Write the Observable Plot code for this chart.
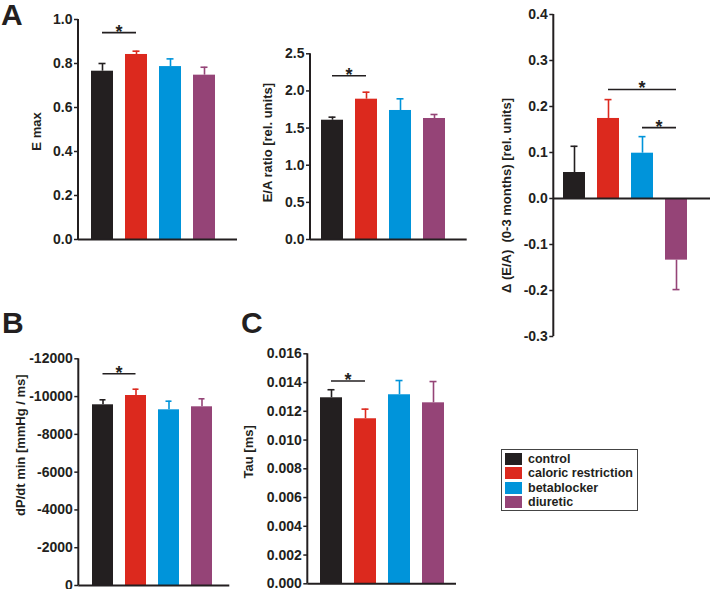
<!DOCTYPE html>
<html><head><meta charset="utf-8">
<script src="https://cdn.jsdelivr.net/npm/d3@7"></script>
<script src="https://cdn.jsdelivr.net/npm/@observablehq/plot@0.6"></script>
<style>
body{margin:0;background:#fff;}
#wrap{position:relative;width:710px;height:589px;overflow:hidden;font-family:"Liberation Sans",Arial,sans-serif;color:#231f20;}
</style></head><body><div id="wrap"></div>
<script>
// ---- data ----
const groups = ["control", "caloric restriction", "betablocker", "diuretic"];
const colors = ["#231f20", "#dc291e", "#0094da", "#954477"];

const emaxMean = [0.765, 0.841, 0.786, 0.747];
const emaxSem  = [0.035, 0.015, 0.035, 0.036];
const emaxTicks = [0, 0.2, 0.4, 0.6, 0.8, 1.0];
const emaxSig = [{from: "control", to: "caloric restriction", y: 0.938}];

const eaMean = [1.606, 1.889, 1.737, 1.629];
const eaSem  = [0.041, 0.094, 0.157, 0.054];
const eaTicks = [0, 0.5, 1.0, 1.5, 2.0, 2.5];
const eaSig = [{from: "control", to: "caloric restriction", y: 2.198}];

const dEaMean = [0.0565, 0.174, 0.0985, -0.134];
const dEaSem  = [0.057, 0.041, 0.036, 0.064];
const dEaTicks = [-0.3, -0.2, -0.1, 0, 0.1, 0.2, 0.3, 0.4];
const dEaSig = [
  {from: "caloric restriction", to: "diuretic", y: 0.236},
  {from: "betablocker", to: "diuretic", y: 0.153}
];

const dpMean = [-9565, -10057, -9300, -9459];
const dpSem  = [265, 333, 456, 424];
const dpTicks = [0, -2000, -4000, -6000, -8000, -10000, -12000];
const dpSig = [{from: "control", to: "caloric restriction", y: -11185}];

const tauMean = [0.01294, 0.01148, 0.01315, 0.01259];
const tauSem  = [0.00056, 0.00067, 0.00099, 0.00148];
const tauTicks = [0, 0.002, 0.004, 0.006, 0.008, 0.010, 0.012, 0.014, 0.016];
const tauSig = [{from: "control", to: "caloric restriction", y: 0.01407}];

// ---- helpers ----
const INK = "#231f20";
function findScales(args){ return args.find(a => a && typeof a.x === "function" && typeof a.y === "function"); }
function findDims(args){ return args.find(a => a && typeof a === "object" && "marginLeft" in a && "width" in a); }

function yAxisLine(domain){
  return function(...args){
    const s = findScales(args), d = findDims(args);
    const g = d3.create("svg:g");
    g.append("line").attr("x1", d.marginLeft).attr("x2", d.marginLeft)
      .attr("y1", s.y(domain[0])).attr("y2", s.y(domain[1]))
      .attr("stroke", INK).attr("stroke-width", 2);
    return g.node();
  };
}
function sigMarks(sig){
  return function(...args){
    const s = findScales(args);
    const bwRaw = s.x.bandwidth;
    const bw = typeof bwRaw === "function" ? bwRaw.call(s.x) : (bwRaw || 0);
    const g = d3.create("svg:g");
    for (const m of sig){
      const x1 = s.x(m.from) + bw / 2, x2 = s.x(m.to) + bw / 2, yy = s.y(m.y);
      g.append("line").attr("x1", x1).attr("x2", x2).attr("y1", yy).attr("y2", yy)
        .attr("stroke", INK).attr("stroke-width", 1.6);
      g.append("text").attr("x", (x1 + x2) / 2).attr("y", yy + 5).attr("text-anchor", "middle")
        .attr("font-size", 18).attr("font-weight", "bold").attr("fill", INK).text("*");
    }
    return g.node();
  };
}

const panels = [
  {left: 0, top: 0, width: 240, height: 260, mL: 78, mT: 19, mB: 21, mR: 3, xRange: [85, 221],
   domain: [0, 1], ticks: emaxTicks, fmt: d => d.toFixed(1), mean: emaxMean, sem: emaxSem,
   title: "E max", tdx: -42, tdy: 2, sig: emaxSig},
  {left: 230, top: 0, width: 240, height: 260, mL: 80, mT: 53.3, mB: 21, mR: 3.3, xRange: [85.5, 221.5],
   domain: [0, 2.5], ticks: eaTicks, fmt: d => d.toFixed(1), mean: eaMean, sem: eaSem,
   title: "E/A ratio [rel. units]", tdx: -42.5, tdy: -4, sig: eaSig},
  {left: 480, top: 0, width: 230, height: 345, mL: 73.3, mT: 14, mB: 9, mR: 0, xRange: [76.7, 213.3],
   domain: [-0.3, 0.4], ticks: dEaTicks, fmt: d => d.toFixed(1), mean: dEaMean, sem: dEaSem,
   title: "\u0394 (E/A)  (0-3 months) [rel. units]", tdx: -47, tdy: 20, sig: dEaSig},
  {left: 0, top: 300, width: 240, height: 289, mL: 78.3, mT: 58.3, mB: 4, mR: 10.7, xRange: [85, 219],
   domain: [0, -12000], ticks: dpTicks, fmt: d => String(d), mean: dpMean, sem: dpSem,
   title: "dP/dt min [mmHg / ms]", tdx: -58, tdy: -27, sig: dpSig},
  {left: 230, top: 300, width: 240, height: 289, mL: 77.3, mT: 53.3, mB: 5.7, mR: 14, xRange: [83.4, 220.3],
   domain: [0, 0.016], ticks: tauTicks, fmt: d => d.toFixed(3), mean: tauMean, sem: tauSem,
   title: "Tau [ms]", tdx: -58.6, tdy: -17, sig: tauSig}
];

const wrap = document.getElementById("wrap");

for (const p of panels){
  const data = groups.map((g, i) => ({
    group: g, mean: p.mean[i], top: p.mean[i] + Math.sign(p.mean[i]) * p.sem[i]
  }));
  const chart = Plot.plot({
    width: p.width, height: p.height,
    marginLeft: p.mL, marginTop: p.mT, marginBottom: p.mB, marginRight: p.mR,
    style: {fontFamily: '"Liberation Sans", Arial, sans-serif', fontSize: "14px", fontWeight: "bold",
            color: INK, background: "transparent", overflow: "visible", maxWidth: "none"},
    x: {type: "band", domain: groups, range: p.xRange, paddingInner: 0.35, paddingOuter: 0.175, align: 0.5, axis: null},
    y: {domain: p.domain, axis: null},
    color: {domain: groups, range: colors},
    marks: [
      Plot.barY(data, {x: "group", y: "mean", fill: "group"}),
      Plot.ruleX(data, {x: "group", y1: "mean", y2: "top", stroke: "group", strokeWidth: 1.6}),
      Plot.tickY(data, {x: "group", y: "top", stroke: "group", strokeWidth: 1.6, insetLeft: 7.5, insetRight: 7.5}),
      Plot.ruleY([0], {stroke: INK, strokeWidth: 2}),
      yAxisLine(p.domain),
      Plot.axisY(p.ticks, {tickSize: 4, tickPadding: 2, tickFormat: p.fmt, label: null, strokeWidth: 1.5}),
      Plot.text([p.title], {frameAnchor: "left", textAnchor: "middle", rotate: -90, dx: p.tdx, dy: p.tdy,
                            text: d => d, fontSize: 13, fill: INK}),
      sigMarks(p.sig)
    ]
  });
  chart.style.position = "absolute";
  chart.style.left = p.left + "px";
  chart.style.top = p.top + "px";
  wrap.appendChild(chart);
}

// panel letters
const letters = [{t: "A", x: 1, y: 25}, {t: "B", x: 2, y: 333}, {t: "C", x: 241, y: 333}];
const ov = d3.select(wrap).append("svg").attr("width", 710).attr("height", 589)
  .style("position", "absolute").style("left", 0).style("top", 0).style("pointer-events", "none");
ov.selectAll("text").data(letters).join("text")
  .attr("x", d => d.x).attr("y", d => d.y).text(d => d.t)
  .attr("font-family", '"Liberation Sans", Arial, sans-serif').attr("font-weight", "bold")
  .attr("font-size", 30).attr("fill", INK);

// legend
const leg = d3.select(wrap).append("div")
  .style("position", "absolute").style("left", "501px").style("top", "449px")
  .style("width", "137px").style("height", "62px").style("border", "1px solid #444")
  .style("box-sizing", "border-box").style("padding-top", "2px");
groups.forEach((g, i) => {
  const row = leg.append("div").style("display", "flex").style("align-items", "center")
    .style("height", "14.3px");
  row.append("div").style("width", "17px").style("height", "12px").style("margin-left", "3px")
    .style("background", colors[i]);
  row.append("div").style("margin-left", "6px").style("font-size", "12.5px").style("font-weight", "bold")
    .style("white-space", "nowrap").text(g);
});
</script></body></html>
